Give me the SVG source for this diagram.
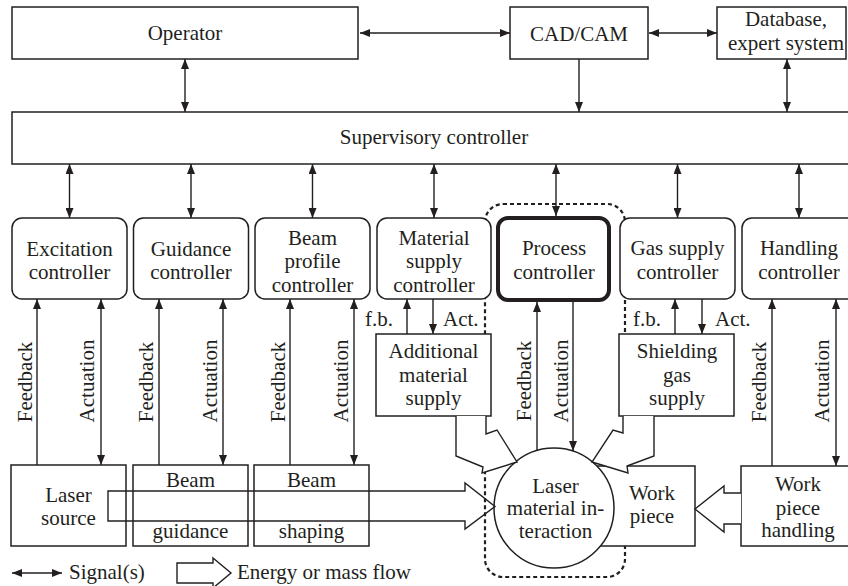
<svg xmlns="http://www.w3.org/2000/svg" width="848" height="586" viewBox="0 0 848 586">
<defs>
<marker id="ah" viewBox="0 0 10 8" refX="10" refY="4" markerWidth="10" markerHeight="8" markerUnits="userSpaceOnUse" orient="auto-start-reverse"><path d="M0,0 L10,4 L0,8 z" fill="#231f20"/></marker>
</defs>
<style>
.t{font-family:"Liberation Serif","Times New Roman",serif;font-size:21px;fill:#231f20;text-anchor:middle}
.s{text-anchor:start}
.e{text-anchor:end}
.b{fill:#fff;stroke:#231f20;stroke-width:1.5}
.pc{fill:#fff;stroke:#231f20;stroke-width:4}
.c{fill:none;stroke:#231f20;stroke-width:1.4}
.h{fill:#fff;stroke:#231f20;stroke-width:1.4;stroke-linejoin:miter}
.ho{fill:none;stroke:#231f20;stroke-width:1.4;stroke-linejoin:miter}
.d{fill:none;stroke:#231f20;stroke-width:2.2;stroke-dasharray:4 3}
.one{marker-end:url(#ah)}
.two{marker-start:url(#ah);marker-end:url(#ah)}
</style>
<rect width="848" height="586" fill="#fff"/>

<g id="boundary"><rect class="d" x="485" y="204" width="140" height="373" rx="18"/></g>

<g id="operator"><rect class="b" x="12" y="7" width="346" height="52"/><text class="t" x="185" y="40">Operator</text></g>
<g id="cadcam"><rect class="b" x="510" y="7" width="138" height="52"/><text class="t" x="579" y="41">CAD/CAM</text></g>
<g id="database"><rect class="b" x="717" y="7" width="129" height="52"/><text class="t" x="786" y="26">Database,</text><text class="t" x="786" y="50">expert system</text></g>
<g id="supervisory"><rect class="b" x="12" y="112" width="845" height="52"/><text class="t" x="434" y="144">Supervisory controller</text></g>

<g id="excitation"><rect class="b" x="12" y="218" width="115" height="81" rx="10"/><text class="t" x="69.5" y="256">Excitation</text><text class="t" x="69.5" y="279">controller</text></g>
<g id="guidance"><rect class="b" x="133.5" y="218" width="115" height="81" rx="10"/><text class="t" x="191" y="256">Guidance</text><text class="t" x="191" y="279">controller</text></g>
<g id="beamprofile"><rect class="b" x="255" y="218" width="115" height="81" rx="10"/><text class="t" x="312.5" y="245">Beam</text><text class="t" x="312.5" y="268">profile</text><text class="t" x="312.5" y="292">controller</text></g>
<g id="materialsupply"><rect class="b" x="377" y="218" width="114" height="81" rx="10"/><text class="t" x="434" y="245">Material</text><text class="t" x="434" y="268">supply</text><text class="t" x="434" y="292">controller</text></g>
<g id="process"><rect class="pc" x="498" y="218" width="111" height="82" rx="10"/><text class="t" x="554" y="255">Process</text><text class="t" x="554" y="279">controller</text></g>
<g id="gassupply"><rect class="b" x="620" y="218" width="115" height="81" rx="10"/><text class="t" x="677.5" y="255">Gas supply</text><text class="t" x="677.5" y="279">controller</text></g>
<g id="handling"><rect class="b" x="742" y="218" width="115" height="81" rx="10"/><text class="t" x="799" y="255">Handling</text><text class="t" x="799" y="279">controller</text></g>

<g id="additional"><rect class="b" x="376" y="334" width="115" height="82"/><text class="t" x="433.5" y="358">Additional</text><text class="t" x="433.5" y="382">material</text><text class="t" x="433.5" y="405">supply</text></g>
<g id="shielding"><rect class="b" x="619" y="334" width="115" height="82"/><text class="t" x="677" y="358">Shielding</text><text class="t" x="677" y="382">gas</text><text class="t" x="677" y="405">supply</text></g>

<g id="lasersource"><rect class="b" x="11" y="465" width="115" height="81"/><text class="t" x="68.5" y="502">Laser</text><text class="t" x="68.5" y="525">source</text></g>
<g id="beamguidance"><rect class="b" x="133" y="465" width="115" height="81"/><text class="t" x="190.5" y="487">Beam</text><text class="t" x="190.5" y="538">guidance</text></g>
<g id="beamshaping"><rect class="b" x="254" y="465" width="115" height="81"/><text class="t" x="311.5" y="487">Beam</text><text class="t" x="311.5" y="538">shaping</text></g>
<g id="workpiece"><rect class="b" x="560" y="466" width="135" height="80"/><text class="t" x="652" y="500">Work</text><text class="t" x="652" y="523">piece</text></g>
<g id="interaction"><circle class="b" cx="554" cy="508" r="60"/><text class="t" x="555.5" y="493">Laser</text><text class="t" x="555.5" y="515">material in-</text><text class="t" x="555.5" y="538">teraction</text></g>
<g id="handlingbox"><rect class="b" x="741" y="466" width="115" height="80"/><text class="t" x="798" y="491">Work</text><text class="t" x="798" y="515">piece</text><text class="t" x="798" y="537">handling</text></g>

<g id="connectors">
<path class="c two" d="M360,33 H510"/>
<path class="c two" d="M649,33 H717"/>
<path class="c two" d="M185,59 V112"/>
<path class="c one" d="M579,59 V112"/>
<path class="c two" d="M787,59 V112"/>
<path class="c two" d="M69.5,164 V218"/>
<path class="c two" d="M191,164 V218"/>
<path class="c two" d="M312.5,164 V218"/>
<path class="c two" d="M434,164 V218"/>
<path class="c two" d="M556,164 V216"/>
<path class="c two" d="M677.5,164 V218"/>
<path class="c two" d="M799,164 V218"/>
<path class="c one" d="M37,465 V299"/>
<path class="c two" d="M101,299 V465"/>
<path class="c one" d="M159,465 V299"/>
<path class="c two" d="M223,299 V465"/>
<path class="c one" d="M290,465 V299"/>
<path class="c two" d="M354,299 V465"/>
<path class="c one" d="M407,334 V299"/>
<path class="c one" d="M433,299 V334"/>
<path class="c one" d="M537,451 V302"/>
<path class="c one" d="M573,302 V451"/>
<path class="c one" d="M675,334 V299"/>
<path class="c one" d="M702,299 V334"/>
<path class="c one" d="M772,466 V299"/>
<path class="c two" d="M836,299 V466"/>
<path class="h" d="M456,416 V456 L483,467 L482,473 L517,462 L497,430 L486,434 V416"/>
<path class="h" d="M654,416 V456 L627,466 L628,473 L592,462 L613,430 L623,433 V416"/>
<path class="ho" d="M108,491 H465 V483 L495,506.5 L465,529 V521 H108 Z"/>
<path class="h" d="M741,493 H724 V486 L695,509 L724,532 V524 H741"/>
</g>

<g id="labels">
<text class="t" transform="translate(32,382) rotate(-90)">Feedback</text>
<text class="t" transform="translate(94,381) rotate(-90)">Actuation</text>
<text class="t" transform="translate(153,382) rotate(-90)">Feedback</text>
<text class="t" transform="translate(217,381) rotate(-90)">Actuation</text>
<text class="t" transform="translate(285,382) rotate(-90)">Feedback</text>
<text class="t" transform="translate(348,381) rotate(-90)">Actuation</text>
<text class="t" transform="translate(531,381) rotate(-90)">Feedback</text>
<text class="t" transform="translate(568,381) rotate(-90)">Actuation</text>
<text class="t" transform="translate(766,382) rotate(-90)">Feedback</text>
<text class="t" transform="translate(829,381) rotate(-90)">Actuation</text>
<text class="t e" x="393" y="326">f.b.</text>
<text class="t s" x="443" y="326">Act.</text>
<text class="t s" x="633" y="326">f.b.</text>
<text class="t s" x="715" y="326">Act.</text>
</g>

<g id="legend">
<path class="c two" d="M12,573 H62"/>
<text class="t s" x="69" y="579">Signal(s)</text>
<path class="h" d="M177,563 H213 V558 L231,573 L213,588 V583 H177 Z"/>
<text class="t s" x="237" y="579">Energy or mass flow</text>
</g>
</svg>
